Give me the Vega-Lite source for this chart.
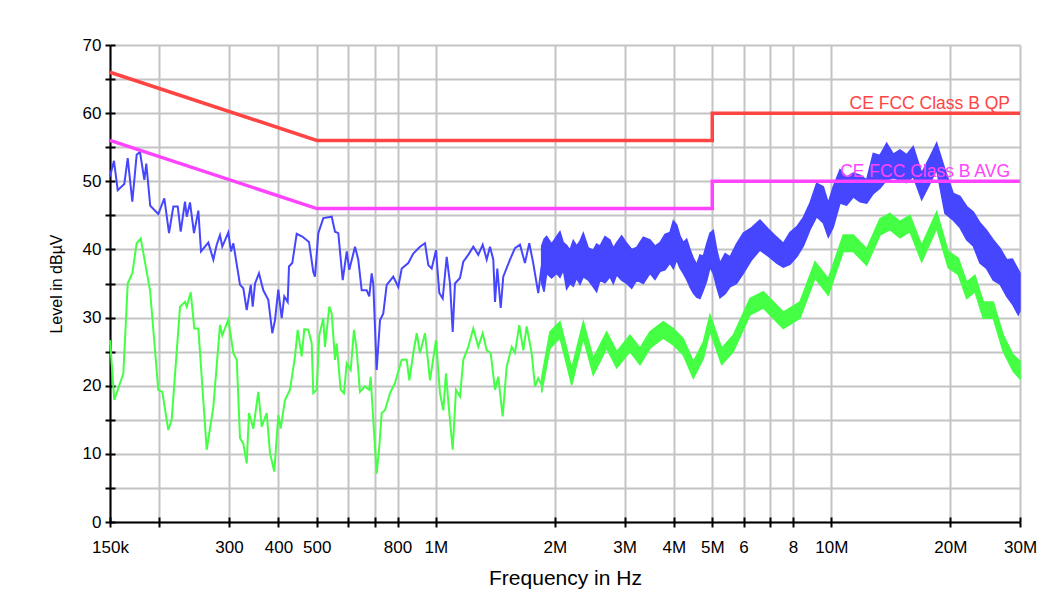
{
  "$schema": "https://vega.github.io/schema/vega-lite/v6.json",
  "width": 910,
  "height": 477,
  "autosize": {"type": "none"},
  "padding": {"left": 110, "top": 45, "right": 38, "bottom": 72},
  "background": "white",
  "config": {"view": {"stroke": null}, "font": "Liberation Sans"},
  "datasets": {
    "blue": [
      {"f":150000,"v":50.7},{"f":153500,"v":53.0},{"f":156900,"v":48.7},{"f":163000,"v":49.6},{"f":166300,"v":53.4},{"f":170800,"v":47.0},{"f":175200,"v":53.9},{"f":178600,"v":54.3},{"f":183200,"v":50.2},{"f":185300,"v":52.6},{"f":189600,"v":46.4},{"f":198700,"v":45.2},{"f":205800,"v":47.5},{"f":211500,"v":42.4},{"f":216900,"v":46.3},{"f":222500,"v":46.3},{"f":226400,"v":42.6},{"f":232100,"v":47.0},{"f":234500,"v":44.8},{"f":239000,"v":46.9},{"f":244600,"v":42.4},{"f":250900,"v":45.7},{"f":254800,"v":39.7},{"f":265900,"v":41.0},{"f":273800,"v":38.5},{"f":279200,"v":40.7},{"f":284600,"v":42.1},{"f":288400,"v":40.4},{"f":298700,"v":42.5},{"f":303400,"v":39.7},{"f":307600,"v":40.9},{"f":319800,"v":34.8},{"f":326000,"v":34.3},{"f":332500,"v":31.1},{"f":340400,"v":34.8},{"f":344300,"v":31.6},{"f":349000,"v":35.0},{"f":357100,"v":36.5},{"f":366200,"v":34.0},{"f":377000,"v":32.6},{"f":385900,"v":27.7},{"f":392000,"v":29.6},{"f":399600,"v":34.1},{"f":407600,"v":29.9},{"f":413800,"v":33.1},{"f":422100,"v":32.3},{"f":425300,"v":37.5},{"f":433500,"v":38.0},{"f":444800,"v":42.3},{"f":459500,"v":41.9},{"f":477800,"v":41.1},{"f":489900,"v":36.7},{"f":494800,"v":36.0},{"f":504400,"v":42.4},{"f":519300,"v":44.6},{"f":545400,"v":44.8},{"f":556000,"v":42.6},{"f":566700,"v":42.4},{"f":581500,"v":35.5},{"f":595200,"v":39.7},{"f":604100,"v":37.0},{"f":624600,"v":40.4},{"f":636600,"v":38.5},{"f":649400,"v":34.0},{"f":668500,"v":34.0},{"f":678700,"v":33.1},{"f":688300,"v":36.5},{"f":694700,"v":35.0},{"f":708600,"v":22.3},{"f":722500,"v":29.6},{"f":736400,"v":30.6},{"f":751200,"v":34.8},{"f":780600,"v":36.0},{"f":803700,"v":34.5},{"f":819800,"v":37.2},{"f":851900,"v":38.0},{"f":877000,"v":39.4},{"f":911900,"v":40.4},{"f":938900,"v":40.9},{"f":957100,"v":37.7},{"f":976200,"v":37.2},{"f":1001000,"v":39.9},{"f":1020400,"v":33.6},{"f":1040800,"v":32.8},{"f":1065300,"v":38.9},{"f":1086000,"v":35.0},{"f":1103200,"v":27.9},{"f":1118000,"v":35.0},{"f":1151100,"v":35.8},{"f":1173400,"v":38.2},{"f":1207800,"v":39.2},{"f":1243600,"v":40.4},{"f":1280300,"v":39.2},{"f":1313800,"v":40.7},{"f":1344700,"v":38.5},{"f":1370700,"v":40.4},{"f":1397400,"v":38.5},{"f":1411300,"v":32.3},{"f":1430300,"v":37.2},{"f":1459000,"v":31.4},{"f":1480800,"v":36.0},{"f":1539900,"v":38.5},{"f":1585200,"v":40.2},{"f":1632200,"v":40.7},{"f":1680000,"v":38.0},{"f":1722700,"v":40.9},{"f":1763200,"v":38.0},{"f":1815300,"v":33.6},{"f":1851700,"v":37.5}
    ],
    "green": [
      {"f":150000,"v":26.7},{"f":153800,"v":17.9},{"f":162100,"v":21.8},{"f":166300,"v":35.0},{"f":170800,"v":36.5},{"f":175200,"v":40.9},{"f":179400,"v":41.6},{"f":189400,"v":34.0},{"f":198700,"v":19.4},{"f":203400,"v":19.1},{"f":210600,"v":13.5},{"f":214800,"v":15.0},{"f":225500,"v":31.6},{"f":232100,"v":32.3},{"f":234500,"v":31.6},{"f":240000,"v":33.7},{"f":245100,"v":28.4},{"f":250900,"v":28.4},{"f":263400,"v":10.6},{"f":273800,"v":16.9},{"f":284600,"v":28.9},{"f":288400,"v":27.4},{"f":298700,"v":29.7},{"f":307600,"v":24.8},{"f":313700,"v":23.8},{"f":319800,"v":12.3},{"f":326000,"v":11.5},{"f":332500,"v":8.6},{"f":336900,"v":16.0},{"f":345500,"v":13.7},{"f":355700,"v":19.1},{"f":362800,"v":14.0},{"f":373500,"v":16.0},{"f":380700,"v":10.1},{"f":390400,"v":7.4},{"f":399600,"v":15.7},{"f":405200,"v":13.7},{"f":415500,"v":17.9},{"f":427800,"v":19.4},{"f":440400,"v":24.3},{"f":447400,"v":28.2},{"f":457900,"v":24.3},{"f":464900,"v":28.3},{"f":475900,"v":28.2},{"f":485400,"v":26.2},{"f":489900,"v":18.9},{"f":499700,"v":19.4},{"f":507300,"v":27.4},{"f":519300,"v":29.9},{"f":524400,"v":25.7},{"f":537800,"v":31.6},{"f":545400,"v":30.6},{"f":556000,"v":23.8},{"f":561400,"v":26.2},{"f":574600,"v":19.4},{"f":585900,"v":18.9},{"f":595200,"v":23.3},{"f":609100,"v":22.3},{"f":620800,"v":28.2},{"f":630800,"v":25.2},{"f":643000,"v":19.1},{"f":662000,"v":19.9},{"f":678700,"v":19.4},{"f":684300,"v":21.3},{"f":694700,"v":15.0},{"f":708600,"v":7.1},{"f":719500,"v":11.1},{"f":729600,"v":16.0},{"f":743700,"v":16.4},{"f":765700,"v":18.9},{"f":788300,"v":20.4},{"f":819800,"v":23.8},{"f":843900,"v":23.8},{"f":856900,"v":20.8},{"f":877000,"v":24.8},{"f":894600,"v":27.7},{"f":911900,"v":24.8},{"f":938900,"v":27.7},{"f":966500,"v":20.8},{"f":1001000,"v":26.7},{"f":1024500,"v":18.9},{"f":1044300,"v":16.4},{"f":1060700,"v":21.8},{"f":1081600,"v":16.0},{"f":1103200,"v":10.6},{"f":1124500,"v":19.4},{"f":1151100,"v":18.4},{"f":1173400,"v":23.8},{"f":1207800,"v":25.7},{"f":1243600,"v":28.4},{"f":1280300,"v":25.7},{"f":1313800,"v":27.7},{"f":1344700,"v":25.2},{"f":1376300,"v":24.8},{"f":1411300,"v":19.4},{"f":1438500,"v":21.3},{"f":1475700,"v":15.5},{"f":1510400,"v":22.8},{"f":1555200,"v":25.7},{"f":1585200,"v":24.8},{"f":1625400,"v":28.9},{"f":1663800,"v":25.2},{"f":1697100,"v":28.7},{"f":1747000,"v":24.8},{"f":1781100,"v":19.9},{"f":1815300,"v":21.1},{"f":1851700,"v":20.1}
    ],
    "blueBand": [
      {"f":1851700,"lo":35.0,"hi":40.5},{"f":1878000,"lo":33.8,"hi":41.5},{"f":1906200,"lo":36.5,"hi":41.9},{"f":1962000,"lo":35.8,"hi":40.8},{"f":2021200,"lo":36.5,"hi":41.9},{"f":2060000,"lo":35.9,"hi":42.6},{"f":2100600,"lo":37.0,"hi":41.0},{"f":2141000,"lo":34.2,"hi":40.6},{"f":2183700,"lo":35.0,"hi":39.9},{"f":2226000,"lo":34.6,"hi":41.3},{"f":2270400,"lo":35.8,"hi":40.5},{"f":2314700,"lo":34.9,"hi":41.2},{"f":2359600,"lo":36.0,"hi":42.4},{"f":2429000,"lo":35.5,"hi":40.2},{"f":2500800,"lo":34.5,"hi":39.9},{"f":2550000,"lo":33.8,"hi":40.8},{"f":2600400,"lo":35.5,"hi":40.5},{"f":2677000,"lo":35.1,"hi":41.9},{"f":2756200,"lo":36.0,"hi":41.4},{"f":2810000,"lo":35.0,"hi":40.2},{"f":2866300,"lo":36.3,"hi":41.0},{"f":2950000,"lo":35.5,"hi":42.0},{"f":3038200,"lo":35.0,"hi":40.9},{"f":3128000,"lo":34.3,"hi":40.0},{"f":3220500,"lo":35.5,"hi":40.3},{"f":3347000,"lo":35.0,"hi":41.8},{"f":3479300,"lo":36.5,"hi":41.4},{"f":3582000,"lo":35.6,"hi":40.5},{"f":3688200,"lo":36.8,"hi":41.0},{"f":3797000,"lo":37.0,"hi":42.2},{"f":3908700,"lo":38.0,"hi":42.5},{"f":3986000,"lo":37.2,"hi":44.2},{"f":4064700,"lo":38.5,"hi":43.6},{"f":4143000,"lo":37.3,"hi":42.0},{"f":4224900,"lo":36.5,"hi":41.0},{"f":4308000,"lo":35.6,"hi":41.5},{"f":4392000,"lo":34.5,"hi":40.0},{"f":4478000,"lo":33.6,"hi":38.7},{"f":4567300,"lo":33.0,"hi":37.8},{"f":4655000,"lo":32.8,"hi":39.2},{"f":4746300,"lo":34.0,"hi":39.0},{"f":4840000,"lo":35.4,"hi":40.8},{"f":4935000,"lo":37.4,"hi":42.4},{"f":5030000,"lo":36.5,"hi":42.8},{"f":5129700,"lo":34.5,"hi":40.0},{"f":5230200,"lo":32.9,"hi":38.0},{"f":5390000,"lo":33.5,"hi":39.4},{"f":5544000,"lo":34.5,"hi":38.9},{"f":5760000,"lo":35.0,"hi":40.8},{"f":5991000,"lo":36.5,"hi":42.4},{"f":6290000,"lo":38.5,"hi":43.2},{"f":6601000,"lo":39.9,"hi":44.3},{"f":6930000,"lo":39.0,"hi":43.0},{"f":7276000,"lo":38.0,"hi":41.8},{"f":7562000,"lo":37.4,"hi":40.9},{"f":7860000,"lo":37.8,"hi":42.5},{"f":8173000,"lo":38.9,"hi":43.3},{"f":8500000,"lo":40.5,"hi":44.7},{"f":8832000,"lo":42.9,"hi":46.8},{"f":9183000,"lo":44.8,"hi":49.7},{"f":9544000,"lo":43.9,"hi":49.2},{"f":9825000,"lo":41.8,"hi":46.8},{"f":10115000,"lo":43.3,"hi":49.2},{"f":10518000,"lo":46.8,"hi":51.7},{"f":10930000,"lo":46.5,"hi":50.6},{"f":11364000,"lo":47.7,"hi":51.2},{"f":11820000,"lo":47.0,"hi":50.9},{"f":12285000,"lo":46.8,"hi":50.2},{"f":12767000,"lo":48.2,"hi":54.1},{"f":13270000,"lo":49.0,"hi":53.8},{"f":13802000,"lo":50.2,"hi":55.6},{"f":14350000,"lo":50.5,"hi":54.0},{"f":14915000,"lo":50.2,"hi":54.6},{"f":15500000,"lo":49.8,"hi":53.9},{"f":16114000,"lo":50.7,"hi":55.1},{"f":16924000,"lo":47.3,"hi":51.2},{"f":17759000,"lo":49.7,"hi":53.6},{"f":18467000,"lo":51.7,"hi":55.6},{"f":19382000,"lo":45.3,"hi":51.7},{"f":20343000,"lo":44.3,"hi":48.2},{"f":21150000,"lo":43.2,"hi":47.8},{"f":21993000,"lo":41.4,"hi":46.3},{"f":22860000,"lo":40.5,"hi":45.5},{"f":23760000,"lo":38.0,"hi":43.9},{"f":24700000,"lo":37.2,"hi":42.8},{"f":25677000,"lo":35.5,"hi":41.4},{"f":26700000,"lo":34.9,"hi":40.2},{"f":27763000,"lo":33.1,"hi":38.5},{"f":28700000,"lo":32.0,"hi":38.6},{"f":29700000,"lo":30.4,"hi":37.0},{"f":30000000,"lo":31.0,"hi":36.5}
    ],
    "greenBand": [
      {"f":1851700,"lo":19.0,"hi":21.2},{"f":1943500,"lo":25.5,"hi":27.9},{"f":2060400,"lo":27.0,"hi":29.4},{"f":2142100,"lo":23.1,"hi":25.5},{"f":2205700,"lo":20.1,"hi":22.5},{"f":2359600,"lo":27.0,"hi":29.4},{"f":2500800,"lo":21.6,"hi":24.0},{"f":2704100,"lo":25.5,"hi":27.9},{"f":2866300,"lo":22.6,"hi":25.0},{"f":3096900,"lo":25.0,"hi":27.4},{"f":3282900,"lo":23.1,"hi":25.5},{"f":3479300,"lo":25.5,"hi":27.9},{"f":3759200,"lo":27.0,"hi":29.4},{"f":3984300,"lo":26.0,"hi":28.4},{"f":4223200,"lo":24.5,"hi":26.9},{"f":4477800,"lo":21.1,"hi":23.5},{"f":4746300,"lo":24.0,"hi":26.4},{"f":4935000,"lo":28.0,"hi":30.4},{"f":5282200,"lo":23.1,"hi":25.5},{"f":5650500,"lo":25.0,"hi":27.4},{"f":6227100,"lo":30.4,"hi":32.8},{"f":6728700,"lo":31.4,"hi":33.8},{"f":7562000,"lo":28.4,"hi":30.8},{"f":8331000,"lo":29.9,"hi":32.3},{"f":9094000,"lo":35.8,"hi":38.2},{"f":9825000,"lo":33.3,"hi":35.7},{"f":10719000,"lo":39.7,"hi":42.1},{"f":11364000,"lo":39.7,"hi":42.1},{"f":12285000,"lo":37.7,"hi":40.1},{"f":13275000,"lo":42.1,"hi":44.5},{"f":14070000,"lo":42.9,"hi":45.3},{"f":14915000,"lo":41.7,"hi":44.1},{"f":15807000,"lo":42.6,"hi":45.0},{"f":16924000,"lo":38.2,"hi":40.6},{"f":18467000,"lo":43.1,"hi":45.5},{"f":19755000,"lo":37.3,"hi":39.7},{"f":20946000,"lo":36.3,"hi":38.7},{"f":21993000,"lo":32.8,"hi":35.2},{"f":23080000,"lo":33.8,"hi":36.2},{"f":24224000,"lo":29.9,"hi":32.3},{"f":25677000,"lo":29.9,"hi":32.3},{"f":27219000,"lo":25.0,"hi":27.4},{"f":28847000,"lo":22.1,"hi":24.5},{"f":30000000,"lo":21.0,"hi":23.6}
    ],
    "limits": [
      {"s":"QP","i":1,"f":150000,"v":66},{"s":"QP","i":2,"f":500000,"v":56},{"s":"QP","i":3,"f":5000000,"v":56},{"s":"QP","i":4,"f":5000000,"v":60},{"s":"QP","i":5,"f":30000000,"v":60},
      {"s":"AVG","i":1,"f":150000,"v":56},{"s":"AVG","i":2,"f":500000,"v":46},{"s":"AVG","i":3,"f":5000000,"v":46},{"s":"AVG","i":4,"f":5000000,"v":50},{"s":"AVG","i":5,"f":30000000,"v":50}
    ],
    "labels": [
      {"s":"QP","f":30000000,"v":60,"label":"CE FCC Class B QP"},
      {"s":"AVG","f":30000000,"v":50,"label":"CE FCC Class B AVG"}
    ]
  },
  "resolve": {"axis": {"x": "independent", "y": "independent"}},
  "layer": [
    {
      "data": {"name": "blue"},
      "mark": {"type": "line", "color": "#4646ff", "strokeWidth": 2},
      "encoding": {
        "x": {"field": "f", "type": "quantitative",
          "scale": {"type": "log", "domain": [150000, 30000000], "nice": false},
          "axis": {"orient": "bottom",
            "values": [150000,200000,300000,400000,500000,600000,700000,800000,1000000,2000000,3000000,4000000,5000000,6000000,7000000,8000000,10000000,20000000,30000000],
            "labelExpr": "datum.value == 150000 ? '150k' : datum.value == 300000 ? '300' : datum.value == 400000 ? '400' : datum.value == 500000 ? '500' : datum.value == 800000 ? '800' : datum.value == 1000000 ? '1M' : datum.value == 2000000 ? '2M' : datum.value == 3000000 ? '3M' : datum.value == 4000000 ? '4M' : datum.value == 5000000 ? '5M' : datum.value == 6000000 ? '6' : datum.value == 8000000 ? '8' : datum.value == 10000000 ? '10M' : datum.value == 20000000 ? '20M' : datum.value == 30000000 ? '30M' : ''",
            "grid": true, "gridColor": "#c4c4c4", "gridWidth": 2,
            "domainColor": "black", "domainWidth": 2,
            "tickColor": "black", "tickWidth": 2, "tickSize": 5,
            "labelFont": "Liberation Sans", "labelFontSize": 17, "labelColor": "black",
            "labelPadding": 12, "labelOverlap": false, "labelFlush": false,
            "title": "Frequency in Hz", "titleFont": "Liberation Sans", "titleFontSize": 21,
            "titleFontWeight": "normal", "titleColor": "black", "titlePadding": 12}},
        "y": {"field": "v", "type": "quantitative",
          "scale": {"domain": [0, 70], "nice": false},
          "axis": {"orient": "left",
            "values": [0,5,10,15,20,25,30,35,40,45,50,55,60,65,70],
            "labelExpr": "datum.value % 10 == 0 ? datum.label : ''",
            "grid": true, "gridColor": "#c4c4c4", "gridWidth": 2,
            "domainColor": "black", "domainWidth": 2,
            "tickColor": "black", "tickWidth": 2, "tickSize": 5,
            "labelFont": "Liberation Sans", "labelFontSize": 17, "labelColor": "black",
            "labelPadding": 4, "labelOverlap": false, "labelFlush": false,
            "title": "Level in dBµV", "titleFont": "Liberation Sans", "titleFontSize": 16,
            "titleFontWeight": "normal", "titleColor": "black", "titlePadding": 18}}
      }
    },
    {
      "data": {"name": "blueBand"},
      "mark": {"type": "area", "color": "#4646ff", "opacity": 1, "stroke": "#4646ff", "strokeWidth": 1.5},
      "encoding": {
        "x": {"field": "f", "type": "quantitative", "axis": null},
        "y": {"field": "lo", "type": "quantitative", "axis": null},
        "y2": {"field": "hi"}
      }
    },
    {
      "data": {"name": "green"},
      "mark": {"type": "line", "color": "#44ff44", "strokeWidth": 2},
      "encoding": {
        "x": {"field": "f", "type": "quantitative", "axis": null},
        "y": {"field": "v", "type": "quantitative", "axis": null}
      }
    },
    {
      "data": {"name": "greenBand"},
      "mark": {"type": "area", "color": "#44ff44", "opacity": 1, "stroke": "#44ff44", "strokeWidth": 1.5},
      "encoding": {
        "x": {"field": "f", "type": "quantitative", "axis": null},
        "y": {"field": "lo", "type": "quantitative", "axis": null},
        "y2": {"field": "hi"}
      }
    },
    {
      "data": {"name": "limits"},
      "mark": {"type": "line", "strokeWidth": 3.5},
      "encoding": {
        "x": {"field": "f", "type": "quantitative",
          "axis": {"orient": "bottom", "offset": -5, "domain": false, "labels": false, "grid": false, "title": null,
            "values": [150000,200000,300000,400000,500000,600000,700000,800000,1000000,2000000,3000000,4000000,5000000,6000000,7000000,8000000,10000000,20000000,30000000],
            "tickColor": "black", "tickWidth": 2, "tickSize": 5}},
        "y": {"field": "v", "type": "quantitative",
          "axis": {"orient": "left", "offset": -5, "domain": false, "labels": false, "grid": false, "title": null,
            "values": [0,5,10,15,20,25,30,35,40,45,50,55,60,65,70],
            "tickColor": "black", "tickWidth": 2, "tickSize": 5}},
        "detail": {"field": "s"},
        "order": {"field": "i"},
        "color": {"field": "s", "type": "nominal", "scale": {"domain": ["QP", "AVG"], "range": ["#ff4444", "#ff44ff"]}, "legend": null}
      }
    },
    {
      "data": {"name": "labels"},
      "mark": {"type": "text", "align": "right", "baseline": "alphabetic", "dx": -10, "dy": -4, "fontSize": 17.5, "font": "Liberation Sans"},
      "encoding": {
        "x": {"field": "f", "type": "quantitative", "axis": null},
        "y": {"field": "v", "type": "quantitative", "axis": null},
        "text": {"field": "label"},
        "color": {"field": "s", "type": "nominal", "scale": {"domain": ["QP", "AVG"], "range": ["#ff4444", "#ff44ff"]}, "legend": null}
      }
    }
  ]
}
